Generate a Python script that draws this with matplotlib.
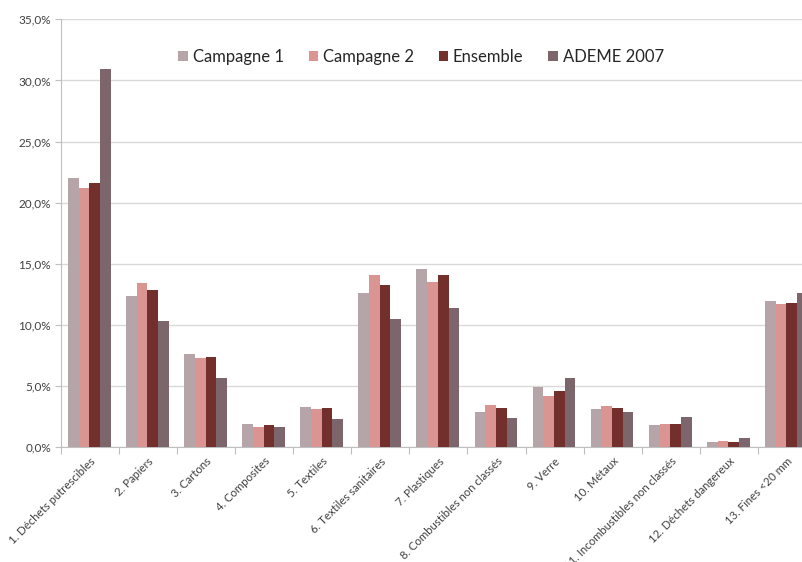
import numpy as np
import matplotlib
matplotlib.use("Agg")
import matplotlib.pyplot as plt
from matplotlib.ticker import FuncFormatter, FixedLocator

plt.rcParams['font.family'] = ['Lato', 'DejaVu Sans']

# categories de déchets
categories = [
    "1. Déchets putrescibles", "2. Papiers", "3. Cartons", "4. Composites",
    "5. Textiles", "6. Textiles sanitaires", "7. Plastiques",
    "8. Combustibles non classés", "9. Verre", "10. Métaux",
    "11. Incombustibles non classés", "12. Déchets dangereux", "13. Fines <20 mm",
]

# parts en %
campagne1 = [22.0, 12.4, 7.6, 1.9, 3.3, 12.6, 14.6, 2.9, 4.9, 3.1, 1.8, 0.4, 12.0]
campagne2 = [21.2, 13.4, 7.3, 1.7, 3.1, 14.1, 13.5, 3.5, 4.2, 3.4, 1.9, 0.5, 11.7]
ensemble = [21.6, 12.9, 7.4, 1.8, 3.2, 13.3, 14.1, 3.2, 4.6, 3.2, 1.9, 0.4, 11.8]
ademe = [30.9, 10.3, 5.7, 1.7, 2.3, 10.5, 11.4, 2.4, 5.7, 2.9, 2.5, 0.8, 12.6]

series = [("Campagne 1", campagne1, "#B6A5A8"),
          ("Campagne 2", campagne2, "#DA9593"),
          ("Ensemble", ensemble, "#722F2C"),
          ("ADEME 2007", ademe, "#7C656B")]

W, H = 803, 562
fig = plt.figure(figsize=(W / 100, H / 100), dpi=100)
left, right, top, bottom = 60.9, 816.0, 19.3, 447.3
ax = fig.add_axes([left / W, 1 - bottom / H, (right - left) / W, (bottom - top) / H])

x = np.arange(len(categories))
bw = 0.184
for i, (name, vals, col) in enumerate(series):
    ax.bar(x + (i - 1.5) * bw - 0.01, vals, width=bw, color=col, label=name,
           zorder=3)

ax.set_xlim(-0.5, len(categories) - 0.5)
ax.set_ylim(0, 35)
ax.set_yticks(np.arange(0, 36, 5))
ax.yaxis.set_major_formatter(FuncFormatter(lambda v, p: f"{v:.1f}%".replace(".", ",")))
ax.yaxis.grid(True, color="#D9D9D9", linewidth=1, zorder=0)

# ticks aux limites des catégories, libellés au centre
ax.xaxis.set_major_locator(FixedLocator(np.arange(-0.5, len(categories), 1)))
ax.xaxis.set_major_formatter(plt.NullFormatter())
ax.set_xticks(x, minor=True)
ax.set_xticklabels(categories, minor=True, rotation=45, ha="right",
                   rotation_mode="anchor", fontsize=8.2, color="#404040")
ax.tick_params(axis="x", which="minor", length=0, pad=6)
ax.tick_params(axis="x", which="major", length=5, color="#BFBFBF")
ax.tick_params(axis="y", length=4, color="#BFBFBF", labelsize=8.5,
               labelcolor="#404040", pad=3)

for s in ["top", "right"]:
    ax.spines[s].set_visible(False)
for s in ["left", "bottom"]:
    ax.spines[s].set_color("#BFBFBF")

ax.legend(loc="center", bbox_to_anchor=(0.477, 0.912), ncol=4, frameon=False,
          fontsize=12, handlelength=0.55, handleheight=0.55, handletextpad=0.3,
          columnspacing=1.5, labelcolor="#262626")

fig.savefig("out.png", dpi=100)
